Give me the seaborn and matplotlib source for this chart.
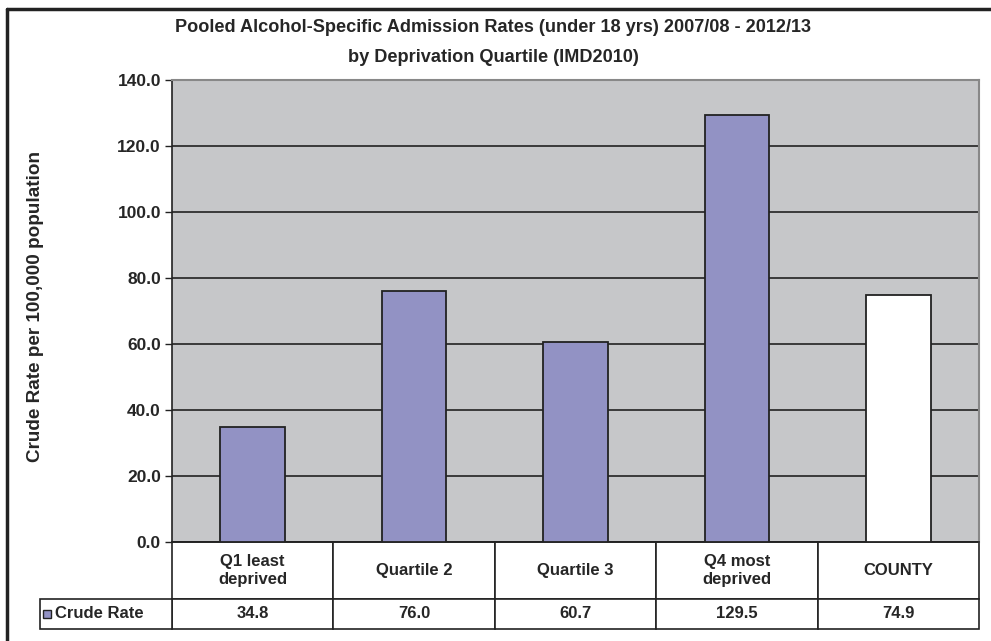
import seaborn as sns
import matplotlib.pyplot as plt
from matplotlib.lines import Line2D
from matplotlib.patches import Rectangle

# Data
categories = ['Q1 least\ndeprived', 'Quartile 2', 'Quartile 3', 'Q4 most\ndeprived', 'COUNTY']
crude_rate = [34.8, 76.0, 60.7, 129.5, 74.9]
series_name = 'Crude Rate'
y_ticks = [0, 20, 40, 60, 80, 100, 120, 140]

bar_color = '#9292C4'
bar_colors = [bar_color, bar_color, bar_color, bar_color, '#FFFFFF']
bg_color = '#C6C7C9'
line_color = '#222222'

sns.set_style("white")
plt.rcParams['font.family'] = ['Liberation Sans', 'DejaVu Sans']
plt.rcParams['font.weight'] = 'bold'

W, H = 991, 641
fig = plt.figure(figsize=(W / 100, H / 100), dpi=100)

# plot area in pixels
left, right, top, bottom = 172, 979, 80, 542
plot_h = bottom - top
plot_w = right - left
ax = fig.add_axes([left / W, 1 - bottom / H, plot_w / W, plot_h / H])

sns.barplot(x=categories, y=crude_rate, hue=categories, palette=bar_colors, legend=False,
            width=0.4, edgecolor=line_color, linewidth=1.3, saturation=1.0, ax=ax, zorder=3)

ax.set_facecolor(bg_color)
ax.set_ylim(0, 140)
ax.set_xlim(-0.5, 4.5)
ax.set_yticks(y_ticks)
ax.set_yticklabels(['%.1f' % t for t in y_ticks], fontsize=12.5, fontweight='bold')
ax.yaxis.grid(True, color=line_color, linewidth=1.2, zorder=0)
ax.set_axisbelow(True)
ax.tick_params(axis='y', left=True, length=5, width=1, color=line_color, pad=3)
ax.set_xticks([])
ax.set_xlabel('')
ax.set_ylabel('Crude Rate per 100,000 population', fontsize=13.6, fontweight='bold')
ax.yaxis.set_label_coords((44 - left) / plot_w, 0.51)

for s in ['top', 'right']:
    ax.spines[s].set_color('#888888')
    ax.spines[s].set_linewidth(1.5)
for s in ['left', 'bottom']:
    ax.spines[s].set_color(line_color)
    ax.spines[s].set_linewidth(1.2)

# Data table below the plot
head_h = 57 / plot_h
row_h = 30 / plot_h
tbl = ax.table(cellText=[['%.1f' % v for v in crude_rate]],
               colLabels=categories, cellLoc='center',
               bbox=[0, -(head_h + row_h), 1, head_h + row_h])
tbl.auto_set_font_size(False)
for (r, c), cell in tbl.get_celld().items():
    cell.set_edgecolor(line_color)
    cell.set_linewidth(1.2)
    cell.get_text().set_fontweight('bold')
    cell.get_text().set_fontsize(12)
    cell.set_height(head_h if r == 0 else row_h)

# row label cell with legend key
lab_left = 40
ax.add_patch(Rectangle(((lab_left - left) / plot_w, -(head_h + row_h)), (left - lab_left) / plot_w, row_h,
                       transform=ax.transAxes, facecolor='white', edgecolor=line_color,
                       linewidth=1.2, clip_on=False))
ax.add_patch(Rectangle(((43 - left) / plot_w, -(618 - bottom) / plot_h), 8 / plot_w, 8 / plot_h,
                       transform=ax.transAxes, facecolor=bar_color, edgecolor=line_color,
                       linewidth=1, clip_on=False))
ax.text((55 - left) / plot_w, -(614 - bottom) / plot_h, series_name, transform=ax.transAxes,
        ha='left', va='center', fontsize=12, fontweight='bold')

# Title
fig.text(493 / W, 1 - 27 / H, 'Pooled Alcohol-Specific Admission Rates (under 18 yrs) 2007/08 - 2012/13',
         ha='center', va='center', fontsize=13.1, fontweight='bold')
fig.text(493 / W, 1 - 57 / H, 'by Deprivation Quartile (IMD2010)',
         ha='center', va='center', fontsize=13.1, fontweight='bold')

# Chart frame
fig.add_artist(Line2D([7 / W, 1], [1 - 9 / H, 1 - 9 / H], color=line_color, linewidth=2.5))
fig.add_artist(Line2D([7 / W, 7 / W], [0, 1 - 9 / H], color=line_color, linewidth=2.5))

fig.savefig('out.png', dpi=100)
plt.close()
